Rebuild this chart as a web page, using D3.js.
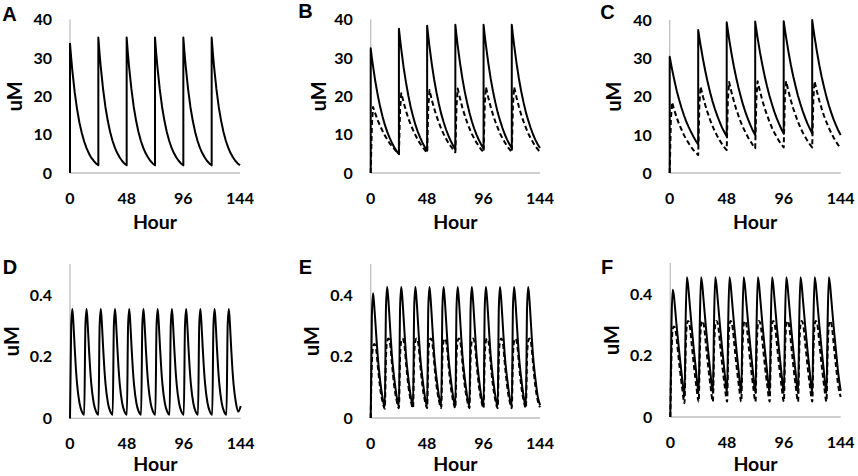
<!DOCTYPE html>
<html>
<head>
<meta charset="utf-8">
<script src="https://cdn.jsdelivr.net/npm/d3@7"></script>
<style>
  html, body { margin: 0; padding: 0; background: #fff; }
  svg { display: block; }
</style>
</head>
<body>
<div id="chart"></div>
<script>
// ---- data ----
const hourTicks = [0, 48, 96, 144];
const topTicks = [0, 10, 20, 30, 40];
const bottomTicks = [0, 0.2, 0.4];

// top row: dose every 24 h (hour repeated at each dose so the jump is vertical)
const topHours = [
  0, 0, 1, 2, 4, 6, 8, 10, 12, 14, 16, 18, 20, 22,
  24, 24, 25, 26, 28, 30, 32, 34, 36, 38, 40, 42, 44, 46,
  48, 48, 49, 50, 52, 54, 56, 58, 60, 62, 64, 66, 68, 70,
  72, 72, 73, 74, 76, 78, 80, 82, 84, 86, 88, 90, 92, 94,
  96, 96, 97, 98, 100, 102, 104, 106, 108, 110, 112, 114, 116, 118,
  120, 120, 121, 122, 124, 126, 128, 130, 132, 134, 136, 138, 140, 142,
  144
];

const seriesA = [
  0, 33.7, 30.0, 26.6, 21.0, 16.6, 13.1, 10.4, 8.2, 6.5, 5.1, 4.0, 3.2, 2.5,
  2.0, 35.3, 31.3, 27.8, 21.9, 17.2, 13.6, 10.7, 8.4, 6.6, 5.2, 4.1, 3.2, 2.5,
  2.0, 35.3, 31.3, 27.8, 21.9, 17.2, 13.6, 10.7, 8.4, 6.6, 5.2, 4.1, 3.2, 2.5,
  2.0, 35.3, 31.3, 27.8, 21.9, 17.2, 13.6, 10.7, 8.4, 6.6, 5.2, 4.1, 3.2, 2.5,
  2.0, 35.3, 31.3, 27.8, 21.9, 17.2, 13.6, 10.7, 8.4, 6.6, 5.2, 4.1, 3.2, 2.5,
  2.0, 35.3, 31.3, 27.8, 21.9, 17.2, 13.6, 10.7, 8.4, 6.6, 5.2, 4.1, 3.2, 2.5,
  2.0
];

const seriesBSolid = [
  0, 32.5, 30.0, 27.8, 23.7, 20.3, 17.3, 14.8, 12.6, 10.8, 9.2, 7.9, 6.7, 5.7,
  4.9, 37.6, 34.8, 32.2, 27.5, 23.6, 20.2, 17.2, 14.8, 12.6, 10.8, 9.3, 7.9, 6.8,
  5.8, 38.4, 35.6, 33.0, 28.3, 24.3, 20.9, 18.0, 15.4, 13.3, 11.4, 9.8, 8.4, 7.2,
  6.2, 38.6, 35.8, 33.2, 28.6, 24.6, 21.2, 18.3, 15.7, 13.5, 11.6, 10.0, 8.6, 7.4,
  6.4, 38.6, 35.8, 33.3, 28.7, 24.7, 21.3, 18.4, 15.8, 13.7, 11.8, 10.1, 8.7, 7.5,
  6.5, 38.6, 35.8, 33.3, 28.7, 24.7, 21.3, 18.4, 15.8, 13.7, 11.8, 10.1, 8.7, 7.5,
  6.5
];

const seriesBDashed = [
  0, 0, 12.5, 17.2, 15.4, 13.7, 12.3, 11.0, 9.8, 8.8, 7.8, 7.0, 6.3, 5.6,
  5.0, 5.0, 16.5, 20.8, 18.4, 16.2, 14.3, 12.6, 11.2, 9.9, 8.7, 7.7, 6.8, 6.0,
  5.3, 5.3, 17.2, 21.6, 19.0, 16.8, 14.8, 13.1, 11.5, 10.2, 9.0, 7.9, 7.0, 6.2,
  5.4, 5.4, 17.5, 22.0, 19.4, 17.0, 15.0, 13.2, 11.6, 10.2, 9.0, 7.9, 7.0, 6.1,
  5.4, 5.4, 17.8, 22.4, 19.7, 17.3, 15.2, 13.4, 11.8, 10.3, 9.1, 8.0, 7.0, 6.2,
  5.4, 5.4, 17.8, 22.4, 19.7, 17.3, 15.2, 13.4, 11.8, 10.3, 9.1, 8.0, 7.0, 6.2,
  5.4
];

const seriesCSolid = [
  0, 30.4, 28.7, 27.1, 24.1, 21.4, 19.1, 17.0, 15.1, 13.4, 12.0, 10.7, 9.5, 8.4,
  7.5, 37.4, 35.3, 33.4, 29.8, 26.6, 23.7, 21.1, 18.8, 16.8, 15.0, 13.4, 11.9, 10.7,
  9.5, 39.4, 37.2, 35.1, 31.3, 27.9, 24.9, 22.2, 19.8, 17.6, 15.7, 14.0, 12.5, 11.1,
  9.9, 39.6, 37.4, 35.4, 31.6, 28.3, 25.3, 22.6, 20.2, 18.1, 16.1, 14.4, 12.9, 11.5,
  10.3, 39.7, 37.5, 35.5, 31.7, 28.3, 25.3, 22.7, 20.2, 18.1, 16.2, 14.5, 12.9, 11.6,
  10.3, 40.0, 37.7, 35.6, 31.7, 28.2, 25.1, 22.4, 19.9, 17.7, 15.8, 14.0, 12.5, 11.1,
  9.9
];

const seriesCDashed = [
  0, 0, 14.0, 18.5, 16.3, 14.4, 12.7, 11.3, 9.9, 8.8, 7.8, 6.8, 6.0, 5.3,
  4.7, 4.7, 18.0, 22.6, 20.0, 17.7, 15.7, 13.9, 12.3, 10.9, 9.7, 8.6, 7.6, 6.7,
  6.0, 6.0, 19.2, 23.8, 21.2, 18.8, 16.7, 14.9, 13.2, 11.8, 10.5, 9.3, 8.3, 7.3,
  6.5, 6.5, 19.5, 24.0, 21.4, 19.0, 16.9, 15.1, 13.4, 11.9, 10.6, 9.5, 8.4, 7.5,
  6.7, 6.7, 19.6, 24.0, 21.4, 19.0, 16.9, 15.1, 13.4, 11.9, 10.6, 9.5, 8.4, 7.5,
  6.7, 6.7, 19.6, 24.0, 21.3, 18.9, 16.8, 14.9, 13.3, 11.8, 10.5, 9.3, 8.2, 7.3,
  6.5
];

// bottom row: dose every 12 h
const bottomHours = [
  0, 1, 2, 3, 4, 5, 6, 8, 10,
  12, 13, 14, 15, 16, 17, 18, 20, 22,
  24, 25, 26, 27, 28, 29, 30, 32, 34,
  36, 37, 38, 39, 40, 41, 42, 44, 46,
  48, 49, 50, 51, 52, 53, 54, 56, 58,
  60, 61, 62, 63, 64, 65, 66, 68, 70,
  72, 73, 74, 75, 76, 77, 78, 80, 82,
  84, 85, 86, 87, 88, 89, 90, 92, 94,
  96, 97, 98, 99, 100, 101, 102, 104, 106,
  108, 109, 110, 111, 112, 113, 114, 116, 118,
  120, 121, 122, 123, 124, 125, 126, 128, 130,
  132, 133, 134, 135, 136, 137, 138, 140, 142,
  144
];

const seriesD = [
  0, 0.30, 0.354, 0.30, 0.225, 0.16, 0.11, 0.05, 0.022,
  0.012, 0.30, 0.354, 0.30, 0.225, 0.16, 0.11, 0.05, 0.022,
  0.012, 0.30, 0.354, 0.30, 0.225, 0.16, 0.11, 0.05, 0.022,
  0.012, 0.30, 0.354, 0.30, 0.225, 0.16, 0.11, 0.05, 0.022,
  0.012, 0.30, 0.354, 0.30, 0.225, 0.16, 0.11, 0.05, 0.022,
  0.012, 0.30, 0.354, 0.30, 0.225, 0.16, 0.11, 0.05, 0.022,
  0.012, 0.30, 0.354, 0.30, 0.225, 0.16, 0.11, 0.05, 0.022,
  0.012, 0.30, 0.354, 0.30, 0.225, 0.16, 0.11, 0.05, 0.022,
  0.012, 0.30, 0.354, 0.30, 0.225, 0.16, 0.11, 0.05, 0.022,
  0.012, 0.30, 0.354, 0.30, 0.225, 0.16, 0.11, 0.05, 0.022,
  0.012, 0.30, 0.354, 0.30, 0.225, 0.16, 0.11, 0.05, 0.022,
  0.012, 0.30, 0.354, 0.30, 0.225, 0.16, 0.11, 0.05, 0.022,
  0.04
];

const seriesESolid = [
  0, 0.33, 0.405, 0.365, 0.31, 0.252, 0.20, 0.122, 0.068,
  0.035, 0.36, 0.425, 0.385, 0.325, 0.262, 0.205, 0.13, 0.072,
  0.037, 0.36, 0.425, 0.385, 0.325, 0.262, 0.205, 0.13, 0.072,
  0.037, 0.36, 0.425, 0.385, 0.325, 0.262, 0.205, 0.13, 0.072,
  0.037, 0.36, 0.425, 0.385, 0.325, 0.262, 0.205, 0.13, 0.072,
  0.037, 0.36, 0.425, 0.385, 0.325, 0.262, 0.205, 0.13, 0.072,
  0.037, 0.36, 0.425, 0.385, 0.325, 0.262, 0.205, 0.13, 0.072,
  0.037, 0.36, 0.425, 0.385, 0.325, 0.262, 0.205, 0.13, 0.072,
  0.037, 0.36, 0.425, 0.385, 0.325, 0.262, 0.205, 0.13, 0.072,
  0.037, 0.36, 0.425, 0.385, 0.325, 0.262, 0.205, 0.13, 0.072,
  0.037, 0.36, 0.425, 0.385, 0.325, 0.262, 0.205, 0.13, 0.072,
  0.037, 0.36, 0.425, 0.385, 0.325, 0.262, 0.205, 0.13, 0.072,
  0.042
];

const seriesEDashed = [
  0, 0.18, 0.232, 0.24, 0.235, 0.212, 0.17, 0.098, 0.054,
  0.03, 0.20, 0.25, 0.258, 0.252, 0.225, 0.18, 0.105, 0.058,
  0.032, 0.20, 0.25, 0.258, 0.252, 0.225, 0.18, 0.105, 0.058,
  0.032, 0.20, 0.25, 0.258, 0.252, 0.225, 0.18, 0.105, 0.058,
  0.032, 0.20, 0.25, 0.258, 0.252, 0.225, 0.18, 0.105, 0.058,
  0.032, 0.20, 0.25, 0.258, 0.252, 0.225, 0.18, 0.105, 0.058,
  0.032, 0.20, 0.25, 0.258, 0.252, 0.225, 0.18, 0.105, 0.058,
  0.032, 0.20, 0.25, 0.258, 0.252, 0.225, 0.18, 0.105, 0.058,
  0.032, 0.20, 0.25, 0.258, 0.252, 0.225, 0.18, 0.105, 0.058,
  0.032, 0.20, 0.25, 0.258, 0.252, 0.225, 0.18, 0.105, 0.058,
  0.032, 0.20, 0.25, 0.258, 0.252, 0.225, 0.18, 0.105, 0.058,
  0.032, 0.20, 0.25, 0.258, 0.252, 0.225, 0.18, 0.105, 0.058,
  0.035
];

const seriesFSolid = [
  0, 0.30, 0.413, 0.395, 0.355, 0.31, 0.27, 0.195, 0.125,
  0.065, 0.32, 0.454, 0.43, 0.385, 0.34, 0.295, 0.215, 0.14,
  0.077, 0.32, 0.454, 0.43, 0.385, 0.34, 0.295, 0.215, 0.14,
  0.077, 0.32, 0.454, 0.43, 0.385, 0.34, 0.295, 0.215, 0.14,
  0.077, 0.32, 0.454, 0.43, 0.385, 0.34, 0.295, 0.215, 0.14,
  0.077, 0.32, 0.454, 0.43, 0.385, 0.34, 0.295, 0.215, 0.14,
  0.077, 0.32, 0.454, 0.43, 0.385, 0.34, 0.295, 0.215, 0.14,
  0.077, 0.32, 0.454, 0.43, 0.385, 0.34, 0.295, 0.215, 0.14,
  0.077, 0.32, 0.454, 0.43, 0.385, 0.34, 0.295, 0.215, 0.14,
  0.077, 0.32, 0.454, 0.43, 0.385, 0.34, 0.295, 0.215, 0.14,
  0.077, 0.32, 0.454, 0.43, 0.385, 0.34, 0.295, 0.215, 0.14,
  0.077, 0.32, 0.454, 0.43, 0.385, 0.34, 0.295, 0.215, 0.14,
  0.085
];

const seriesFDashed = [
  0, 0.20, 0.285, 0.294, 0.29, 0.268, 0.23, 0.158, 0.095,
  0.045, 0.22, 0.30, 0.312, 0.305, 0.28, 0.24, 0.165, 0.10,
  0.05, 0.22, 0.30, 0.312, 0.305, 0.28, 0.24, 0.165, 0.10,
  0.05, 0.22, 0.30, 0.312, 0.305, 0.28, 0.24, 0.165, 0.10,
  0.05, 0.22, 0.30, 0.312, 0.305, 0.28, 0.24, 0.165, 0.10,
  0.05, 0.22, 0.30, 0.312, 0.305, 0.28, 0.24, 0.165, 0.10,
  0.05, 0.22, 0.30, 0.312, 0.305, 0.28, 0.24, 0.165, 0.10,
  0.05, 0.22, 0.30, 0.312, 0.305, 0.28, 0.24, 0.165, 0.10,
  0.05, 0.22, 0.30, 0.312, 0.305, 0.28, 0.24, 0.165, 0.10,
  0.05, 0.22, 0.30, 0.312, 0.305, 0.28, 0.24, 0.165, 0.10,
  0.05, 0.22, 0.30, 0.312, 0.305, 0.28, 0.24, 0.165, 0.10,
  0.05, 0.22, 0.30, 0.312, 0.305, 0.28, 0.24, 0.165, 0.10,
  0.065
];

// ---- layout ----
const W = 858, H = 476;
const tickFont = 'Lato, "Open Sans", sans-serif';
const axisColor = '#bfbfbf';

const panels = [
  { letter: 'A', lx: 9.5, ly: 13.5, x0: 70, x1: 240, y0: 173, y1: 19.5, ymax: 40, ticks: topTicks,
    hours: topHours, curve: d3.curveLinear, yLabOff: 55.5, titleBase: 56, series: [{ v: seriesA }] },
  { letter: 'B', lx: 305.5, ly: 11, x0: 370.7, x1: 540, y0: 173, y1: 19.5, ymax: 40, ticks: topTicks,
    hours: topHours, curve: d3.curveLinear, yLabOff: 51.5, titleBase: 56,
    series: [{ v: seriesBSolid }, { v: seriesBDashed, dashed: true }] },
  { letter: 'C', lx: 607.5, ly: 12, x0: 669.7, x1: 840.7, y0: 173, y1: 20, ymax: 40, ticks: topTicks,
    hours: topHours, curve: d3.curveLinear, yLabOff: 55.5, titleBase: 56,
    series: [{ v: seriesCSolid }, { v: seriesCDashed, dashed: true }] },
  { letter: 'D', lx: 10, ly: 267, x0: 70, x1: 240.7, y0: 418.4, y1: 264, ymax: 0.5, ticks: bottomTicks,
    hours: bottomHours, curve: d3.curveMonotoneX, yLabOff: 58.5, titleBase: 52.5, series: [{ v: seriesD }] },
  { letter: 'E', lx: 305.5, ly: 267, x0: 370.7, x1: 540, y0: 418, y1: 264, ymax: 0.5, ticks: bottomTicks,
    hours: bottomHours, curve: d3.curveMonotoneX, yLabOff: 59, titleBase: 52.9,
    series: [{ v: seriesESolid }, { v: seriesEDashed, dashed: true }] },
  { letter: 'F', lx: 607, ly: 267, x0: 670.3, x1: 840.7, y0: 417, y1: 263, ymax: 0.5, ticks: bottomTicks,
    hours: bottomHours, curve: d3.curveMonotoneX, yLabOff: 59, titleBase: 53.9,
    series: [{ v: seriesFSolid }, { v: seriesFDashed, dashed: true }] }
];

const svg = d3.select('#chart').append('svg')
  .attr('width', W)
  .attr('height', H)
  .style('background', '#fff');

panels.forEach(p => {
  const x = d3.scaleLinear().domain([0, 144]).range([p.x0, p.x1]);
  const y = d3.scaleLinear().domain([0, p.ymax]).range([p.y0, p.y1]);
  const g = svg.append('g').attr('class', 'panel-' + p.letter);

  // axis lines (no tick marks)
  g.append('line')
    .attr('x1', x(0)).attr('x2', x(0))
    .attr('y1', y(0)).attr('y2', y(p.ymax))
    .style('stroke', axisColor).style('stroke-width', 1.3);
  g.append('line')
    .attr('x1', x(0)).attr('x2', x(144))
    .attr('y1', y(0)).attr('y2', y(0))
    .style('stroke', axisColor).style('stroke-width', 1.3);

  // y tick labels
  g.selectAll('.ytick').data(p.ticks).enter()
    .append('text')
    .attr('x', x(0) - 18)
    .attr('y', d => y(d))
    .attr('dy', '0.36em')
    .attr('text-anchor', 'end')
    .style('font-family', tickFont)
    .style('font-weight', 700)
    .style('font-size', '16px')
    .text(d => String(d));

  // x tick labels
  g.selectAll('.xtick').data(hourTicks).enter()
    .append('text')
    .attr('x', d => x(d))
    .attr('y', y(0) + 25)
    .attr('dy', '0.36em')
    .attr('text-anchor', 'middle')
    .style('font-family', tickFont)
    .style('font-weight', 700)
    .style('font-size', '16px')
    .text(d => d);

  // axis titles
  g.append('text')
    .attr('x', (p.x0 + p.x1) / 2)
    .attr('y', y(0) + p.titleBase)
    .attr('text-anchor', 'middle')
    .style('font-family', tickFont)
    .style('font-weight', 700)
    .style('font-size', '19.5px')
    .text('Hour');

  g.append('text')
    .attr('transform', `translate(${p.x0 - p.yLabOff}, ${(p.y0 + p.y1) / 2}) rotate(-90)`)
    .attr('dy', '0.36em')
    .attr('text-anchor', 'middle')
    .style('font-family', tickFont)
    .style('font-weight', 700)
    .style('font-size', '20px')
    .text('uM');

  // panel letter
  g.append('text')
    .attr('x', p.lx)
    .attr('y', p.ly)
    .attr('dy', '0.36em')
    .attr('text-anchor', 'middle')
    .style('font-family', '"Liberation Sans", Arial, sans-serif')
    .style('font-weight', 700)
    .style('font-size', '20px')
    .text(p.letter);

  // curves
  const line = d3.line()
    .x(d => x(d[0]))
    .y(d => y(d[1]))
    .curve(p.curve);

  p.series.forEach(s => {
    g.append('path')
      .attr('d', line(d3.zip(p.hours, s.v)))
      .style('fill', 'none')
      .style('stroke', '#000')
      .style('stroke-width', 2)
      .style('stroke-linejoin', 'round')
      .style('stroke-dasharray', s.dashed ? '5,3' : null);
  });
});
</script>
</body>
</html>
